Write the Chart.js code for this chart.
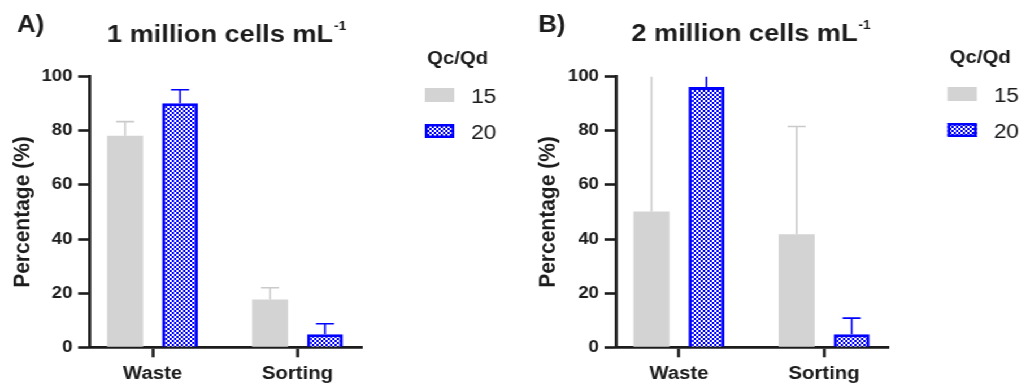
<!DOCTYPE html>
<html>
<head>
<meta charset="utf-8">
<script src="https://cdn.jsdelivr.net/npm/chart.js@4.4.1/dist/chart.umd.min.js"></script>
<style>
  html, body { margin: 0; padding: 0; background: #fff; }
  /* figure is laid out narrow and widened horizontally */
  #wrap { position: absolute; left: 0; top: 0; width: 907px; height: 388px; transform: scaleX(1.13); transform-origin: 0 0; }
  #wrap canvas { position: absolute; top: 0; }
  #panelA { left: 0; }
  #panelB { left: 460px; }
</style>
</head>
<body>
<div id="wrap">
  <canvas id="panelA" width="460" height="388"></canvas>
  <canvas id="panelB" width="447" height="388"></canvas>
</div>
<script>
const categories = ['Waste', 'Sorting'];
const seriesNames = ['15', '20'];
const yTicks = [0, 20, 40, 60, 80, 100];

// 1 million cells mL-1 : mean and upper error limit
const aMean15 = [78.2, 17.7];
const aMean20 = [90.2, 4.8];
const aUpper15 = [83.4, 22.0];
const aUpper20 = [95.2, 8.7];

// 2 million cells mL-1
const bMean15 = [50.2, 41.8];
const bMean20 = [96.2, 4.8];
const bUpper15 = [104, 81.6];
const bUpper20 = [101.5, 10.8];

const FONT = '"Liberation Sans", Arial, Helvetica, sans-serif';
const INK = '#1c1c1c';
const GRAY = '#d3d3d3';
const BLUE = '#0000ff';
const ERR_COLORS = ['#cacaca', BLUE];
const H = 388;

function checkerPattern(ctx) {
    const c = document.createElement('canvas');
    c.width = 4;
    c.height = 4;
    const g = c.getContext('2d');
    g.fillStyle = '#ffffff';
    g.fillRect(0, 0, 4, 4);
    g.fillStyle = BLUE;
    g.fillRect(0, 0, 2, 2);
    g.fillRect(2, 2, 2, 2);
    return ctx.createPattern(c, 'repeat');
}

// upper-only error whiskers with caps, clipped to the plot area
function makeErrorBars(uppers) {
    return {
        id: 'errorBars',
        afterDatasetsDraw(chart) {
            const ctx = chart.ctx;
            const area = chart.chartArea;
            const y = chart.scales.y;
            const cap = 16;
            ctx.save();
            ctx.beginPath();
            ctx.rect(area.left, area.top, area.right - area.left, area.bottom - area.top);
            ctx.clip();
            ctx.lineWidth = 1.6;
            uppers.forEach((upper, i) => {
                const meta = chart.getDatasetMeta(i);
                ctx.strokeStyle = ERR_COLORS[i];
                meta.data.forEach((bar, j) => {
                    const top = y.getPixelForValue(upper[j]);
                    ctx.beginPath();
                    ctx.moveTo(bar.x, bar.y);
                    ctx.lineTo(bar.x, top);
                    ctx.moveTo(bar.x - cap / 2, top);
                    ctx.lineTo(bar.x + cap / 2, top);
                    ctx.stroke();
                });
            });
            ctx.restore();
        }
    };
}

// panel letter, title, y axis title and legend
function makePanelText(o) {
    return {
        id: 'panelText',
        afterDraw(chart) {
            const ctx = chart.ctx;
            const area = chart.chartArea;
            ctx.save();
            ctx.fillStyle = INK;
            ctx.textAlign = 'left';
            ctx.textBaseline = 'alphabetic';

            ctx.font = 'bold 23px ' + FONT;
            ctx.fillText(o.letter, o.letterX, 32);

            ctx.font = 'bold 24px ' + FONT;
            ctx.fillText(o.title, o.titleX, o.titleY);
            const w = ctx.measureText(o.title).width;
            ctx.font = 'bold 12px ' + FONT;
            ctx.fillText('-1', o.titleX + w + 1, o.titleY - 12);

            ctx.save();
            ctx.translate(o.yLabelX, (area.top + area.bottom) / 2);
            ctx.rotate(-Math.PI / 2);
            ctx.textAlign = 'center';
            ctx.textBaseline = 'middle';
            ctx.font = 'bold 21px ' + FONT;
            ctx.fillText('Percentage (%)', 0, 0);
            ctx.restore();

            ctx.font = 'bold 18px ' + FONT;
            ctx.fillText('Qc/Qd', o.legendX, o.legendY);
            chart.data.datasets.forEach((ds, i) => {
                const top = o.legendY + 24 + i * 36;
                const bx = o.legendX - 2;
                ctx.fillStyle = ds.backgroundColor;
                ctx.fillRect(bx, top, 26, 14);
                if (ds.borderWidth) {
                    ctx.strokeStyle = ds.borderColor;
                    ctx.lineWidth = 2.5;
                    ctx.strokeRect(bx + 1.25, top + 1.25, 23.5, 11.5);
                }
                ctx.fillStyle = INK;
                ctx.font = '20px ' + FONT;
                ctx.fillText(ds.label, bx + 41, top + 14.5);
            });
            ctx.restore();
        }
    };
}

function makePanel(p) {
    const ctx = document.getElementById(p.id).getContext('2d');
    const toPoints = arr => arr.map((v, i) => ({ x: i, y: v }));

    return new Chart(ctx, {
        type: 'bar',
        data: {
            datasets: [
                {
                    label: seriesNames[0],
                    data: toPoints(p.mean15),
                    backgroundColor: GRAY,
                    borderWidth: 0
                },
                {
                    label: seriesNames[1],
                    data: toPoints(p.mean20),
                    backgroundColor: checkerPattern(ctx),
                    borderColor: BLUE,
                    borderWidth: 3
                }
            ]
        },
        options: {
            responsive: false,
            animation: false,
            categoryPercentage: 0.758,
            barPercentage: 0.655,
            layout: {
                padding: { left: 0, top: 76.7, right: p.width - p.axisRight, bottom: 0 }
            },
            scales: {
                x: {
                    type: 'linear',
                    min: -0.435,
                    max: 1.445,
                    offset: false,
                    z: 1,
                    afterBuildTicks: s => { s.ticks = categories.map((c, i) => ({ value: i })); },
                    afterFit: s => { s.height = H - 347.3; },
                    ticks: {
                        callback: v => categories[v],
                        font: { family: FONT, size: 18, weight: 'bold' },
                        color: INK,
                        padding: 6,
                        maxRotation: 0,
                        autoSkip: false
                    },
                    grid: { offset: false, drawOnChartArea: false, tickLength: 10, tickWidth: 2.6, tickColor: INK },
                    border: { display: true, width: 2.7, color: INK }
                },
                y: {
                    type: 'linear',
                    min: 0,
                    max: 100,
                    z: 1,
                    afterBuildTicks: s => { s.ticks = yTicks.map(v => ({ value: v })); },
                    afterFit: s => { s.width = p.axisLeft; },
                    ticks: {
                        font: { family: FONT, size: 16.5, weight: 'bold' },
                        color: INK,
                        padding: 5
                    },
                    grid: { drawOnChartArea: false, tickLength: 10, tickWidth: 2.6, tickColor: INK },
                    border: { display: true, width: 2.7, color: INK }
                }
            },
            plugins: {
                legend: { display: false },
                tooltip: { enabled: false }
            }
        },
        plugins: [makeErrorBars([p.upper15, p.upper20]), makePanelText(p.text)]
    });
}

makePanel({
    id: 'panelA', width: 460, axisLeft: 79.2, axisRight: 320.4,
    mean15: aMean15, mean20: aMean20, upper15: aUpper15, upper20: aUpper20,
    text: { letter: 'A)', letterX: 15, title: '1 million cells mL', titleX: 94.7, titleY: 42,
            yLabelX: 19.9, legendX: 378, legendY: 64 }
});

makePanel({
    id: 'panelB', width: 447, axisLeft: 85, axisRight: 326.5,
    mean15: bMean15, mean20: bMean20, upper15: bUpper15, upper20: bUpper20,
    text: { letter: 'B)', letterX: 16.2, title: '2 million cells mL', titleX: 98.8, titleY: 41,
            yLabelX: 25.1, legendX: 380.5, legendY: 63 }
});
</script>
</body>
</html>
